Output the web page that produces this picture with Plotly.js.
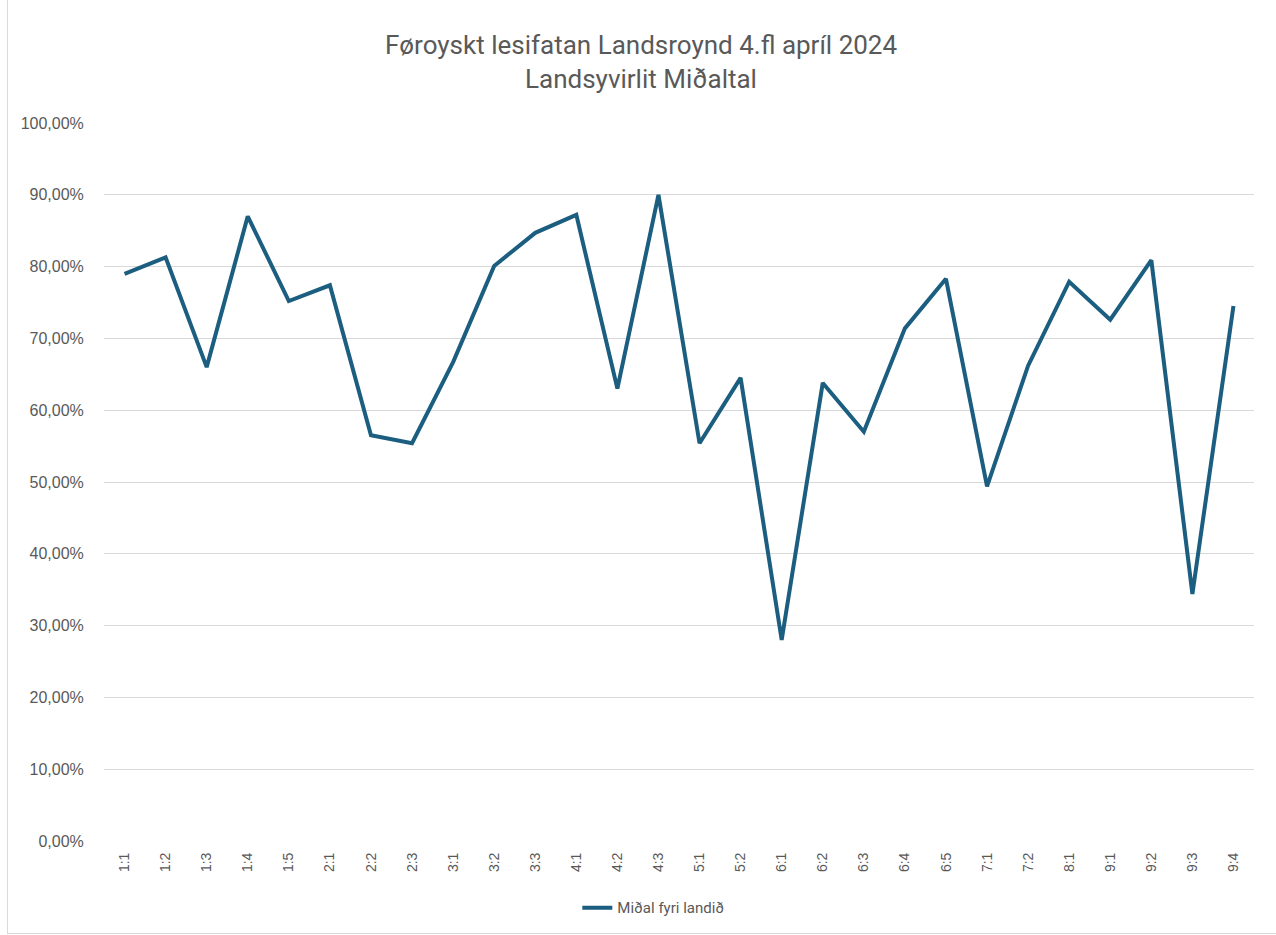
<!DOCTYPE html>
<html><head><meta charset="utf-8">
<script src="https://cdn.plot.ly/plotly-3.0.1.min.js"></script>
<style>html,body{margin:0;padding:0;background:#fff;}#frame{position:absolute;left:7px;top:0;width:1268px;height:933px;border:1px solid #d9d9d9;border-top:none;}#chart{position:absolute;left:0;top:0;width:1276px;height:935px;}</style>
</head><body>
<div id="frame"></div>
<div id="chart"></div>
<script>
const categories = ["1:1","1:2","1:3","1:4","1:5","2:1","2:2","2:3","3:1","3:2","3:3","4:1","4:2","4:3","5:1","5:2","6:1","6:2","6:3","6:4","6:5","7:1","7:2","8:1","9:1","9:2","9:3","9:4"];
const mean = [0.790,0.813,0.660,0.870,0.752,0.774,0.565,0.554,0.667,0.801,0.847,0.872,0.630,0.900,0.554,0.645,0.280,0.638,0.570,0.714,0.783,0.494,0.662,0.779,0.726,0.809,0.344,0.745];
const seriesName = "Miðal fyri landið";
const titleLines = ["Føroyskt lesifatan Landsroynd 4.fl apríl 2024","Landsyvirlit Miðaltal"];

const titleFont = {family: 'Roboto, sans-serif', size: 26, color: '#595959'};
Plotly.newPlot('chart', [{
  x: categories, y: mean, type: 'scatter', mode: 'lines', name: seriesName,
  line: {color: '#1b5e80', width: 4}
}], {
  width: 1276, height: 935,
  paper_bgcolor: 'rgba(0,0,0,0)', plot_bgcolor: 'rgba(0,0,0,0)',
  separators: ', ',
  margin: {l: 104, r: 22, t: 123, b: 94},
  annotations: [
    {text: titleLines[0], xref: 'paper', yref: 'paper', x: 0.467, y: 1.1086, xanchor: 'center', yanchor: 'middle', showarrow: false, font: titleFont},
    {text: titleLines[1], xref: 'paper', yref: 'paper', x: 0.467, y: 1.0613, xanchor: 'center', yanchor: 'middle', showarrow: false, font: titleFont}
  ],
  xaxis: {type: 'category', automargin: false, range: [-0.5, categories.length - 0.5], tickangle: -90, showgrid: false, zeroline: false, showline: false,
    ticks: 'outside', ticklen: 5, tickcolor: 'rgba(0,0,0,0)', tickfont: {family: 'Liberation Sans, Arial, sans-serif', size: 14, color: '#595959'}, fixedrange: true},
  yaxis: {automargin: false, range: [0, 1], dtick: 0.1, tickformat: '.2%', showgrid: true, gridcolor: '#d9d9d9', gridwidth: 1.3,
    zeroline: false, showline: false, ticks: 'outside', ticklen: 16, tickcolor: 'rgba(0,0,0,0)',
    tickfont: {family: 'Liberation Sans, Arial, sans-serif', size: 16, color: '#595959'}},
  showlegend: true,
  legend: {orientation: 'h', xref: 'container', yref: 'container', x: 0.512, xanchor: 'center', y: 0.029, yanchor: 'middle',
    font: {family: 'Roboto, sans-serif', size: 15, color: '#595959'}}
}, {displayModeBar: false});
</script>
</body></html>
